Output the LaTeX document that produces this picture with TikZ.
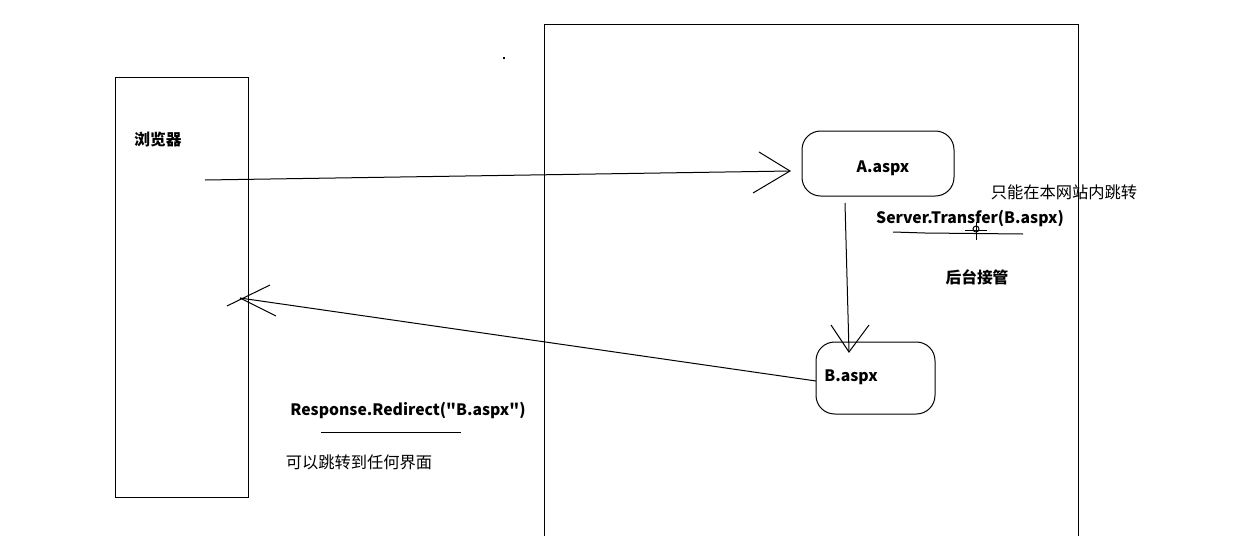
\documentclass[tikz,border=0pt]{standalone}
\usepackage{fontspec}
\newfontfamily\mf{Noto Sans CJK SC}
\begin{document}
\begin{tikzpicture}[x=0.75pt,y=-0.75pt,line width=0.75pt,
  box/.style={draw,rounded corners=14pt,inner sep=0pt},
  lab/.style={font=\mf\fontsize{11.8}{13}\selectfont\bfseries,inner sep=0pt},
  note/.style={font=\mf\fontsize{12.2}{13}\selectfont,inner sep=0pt}]
\useasboundingbox (0,0) rectangle (1257,536);
% browser
\draw (115,77) rectangle (248,497);
% server area
\draw (544,536) -- (544,24) -- (1078,24) -- (1078,536);
\fill (503,57) rectangle (505,59);
% nodes
\node[box,minimum width=152*0.75pt,minimum height=65*0.75pt] (A) at (878,163.5) {};
\node[box,minimum width=119*0.75pt,minimum height=72*0.75pt] (B) at (875.5,378) {};
\node[lab] (tA) at (883,168) {A.aspx};
\node[lab] (tB) at (851,377) {B.aspx};
\node[lab] (br) at (158,140) {浏览器};
\node[lab] (st) at (970,219) {Server.Transfer(B.aspx)};
\node[note] (n1) at (1064,192) {只能在本网站内跳转};
\node[lab] (ht) at (977,277) {后台接管};
\node[lab] (rr) at (408,411) {Response.Redirect("B.aspx")};
\node[note] (n2) at (359,462) {可以跳转到任何界面};
% arrow 1
\coordinate (s1) at (205,180);
\coordinate (t1) at (790,171);
\draw (s1) -- (t1);
\draw (759,152) -- (t1) -- (753,193);
% arrow 2
\coordinate (s2) at (845,203);
\coordinate (t2) at (849,352);
\draw (s2) -- (t2);
\draw (831,325) -- (t2) -- (869,325);
% arrow 3
\coordinate (s3) at (816,381);
\coordinate (t3) at (240,298);
\draw (s3) -- (t3);
\draw (227,306) -- (270,285);
\draw (t3) -- (276,316);
% underlines
\draw (893,232) -- (925,233) -- (1023,234);
\draw (321,432) -- (461,432);
% cursor
\draw (976,229) circle (3);
\draw (976,222) -- (976,240);
\draw (965,230) -- (987,230);
\end{tikzpicture}
\end{document}
